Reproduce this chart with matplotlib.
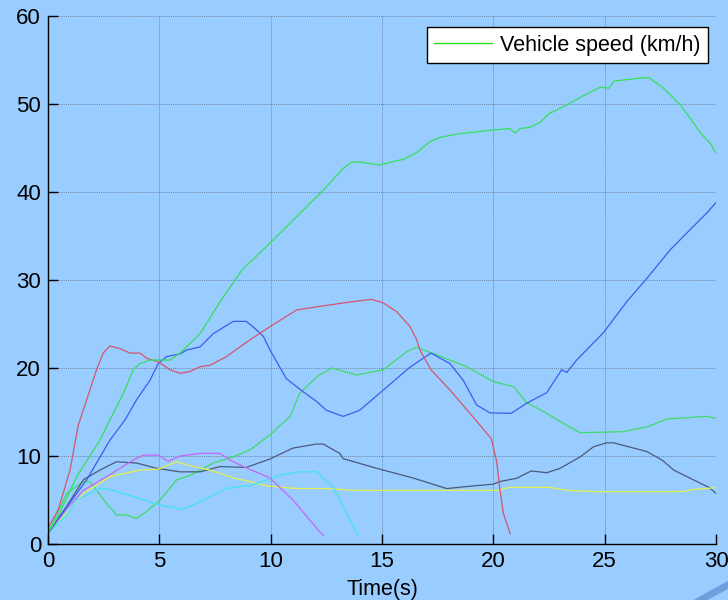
import matplotlib
matplotlib.use("Agg")
import matplotlib.pyplot as plt
from matplotlib.patches import Circle

plt.rcParams['font.family'] = ['Liberation Sans', 'DejaVu Sans']

# ---- data ----
red_t = [0, 0.46, 0.99, 1.36, 1.74, 2.18, 2.48, 2.78, 3.23, 3.68, 4.13, 4.43, 4.95, 5.48, 5.93, 6.38, 6.83, 7.27,
         8.02, 8.62, 9.07, 9.97, 11.17, 12.2, 13.56, 14.53, 15.06, 15.66, 16.26, 16.56, 16.7, 17.2, 18.05, 18.95,
         19.9, 20.0, 20.15, 20.3, 20.45, 20.75]
red_v = [1.8, 3.9, 8.4, 13.5, 16.4, 19.8, 21.7, 22.5, 22.2, 21.7, 21.7, 21.1, 20.7, 19.8, 19.4, 19.6, 20.15, 20.3,
         21.3, 22.4, 23.2, 24.7, 26.6, 27.0, 27.5, 27.8, 27.4, 26.4, 24.7, 23.2, 22.05, 19.8, 17.5, 14.85,
         12.0, 11.0, 9.35, 6.1, 3.5, 1.2]

green1_t = [0, 0.46, 1.29, 2.33, 2.78, 3.38, 3.83, 4.13, 4.58, 5.48, 5.93, 6.83, 7.72, 8.7, 9.97, 11.17, 12.36,
            13.26, 13.64, 14.0, 14.9, 15.66, 15.96, 16.56, 17.15, 17.6, 18.4, 20.0, 20.75, 20.97, 21.2, 21.64,
            22.1, 22.5, 23.3, 23.9, 24.8, 25.2, 25.4, 26.1, 26.8, 27.0, 27.6, 28.4, 28.98, 29.3, 29.75, 30.0]
green1_v = [1.2, 3.2, 7.65, 11.8, 14.1, 17.1, 19.8, 20.5, 20.9, 20.9, 21.7, 23.9, 27.5, 31.1, 34.2, 37.2, 40.2,
            42.7, 43.4, 43.4, 43.07, 43.56, 43.7, 44.5, 45.7, 46.2, 46.6, 47.05, 47.2, 46.7, 47.2, 47.35,
            47.9, 48.9, 49.9, 50.75, 51.9, 51.8, 52.6, 52.8, 53.0, 52.96, 51.9, 49.9, 47.9, 46.7, 45.5, 44.4]

blue_t = [0, 0.84, 1.74, 2.78, 3.46, 3.98, 4.58, 4.95, 5.33, 5.93, 6.23, 6.83, 7.42, 8.32, 8.9, 9.2, 9.67, 9.97,
          10.7, 11.46, 12.06, 12.5, 13.26, 14.0, 15.06, 16.26, 17.2, 18.05, 18.65, 19.25, 19.85, 20.8, 21.5,
          22.4, 23.07, 23.3, 23.74, 24.94, 25.98, 26.9, 27.93, 28.83, 29.58, 30.0]
blue_v = [1.2, 4.2, 7.3, 11.8, 14.1, 16.4, 18.6, 20.5, 21.3, 21.6, 22.05, 22.4, 23.9, 25.3, 25.3, 24.7, 23.6, 22.05,
          18.8, 17.3, 16.2, 15.2, 14.5, 15.2, 17.5, 20.1, 21.7, 20.5, 18.6, 15.8, 14.9, 14.85, 16.0,
          17.2, 19.8, 19.5, 20.9, 24.0, 27.5, 30.2, 33.4, 35.7, 37.6, 38.8]

green2_t = [0, 0.84, 1.59, 1.89, 2.18, 2.63, 3.08, 3.53, 3.98, 4.43, 5.03, 5.78, 6.38, 7.42, 8.32, 9.07, 9.97,
            10.87, 11.3, 12.06, 12.74, 13.86, 15.06, 16.1, 16.55, 17.45, 18.8, 20.0, 20.9, 21.5, 22.4, 23.14,
            23.89, 25.8, 26.9, 27.8, 29.58, 30.0]
green2_v = [1.2, 5.76, 7.1, 7.1, 6.1, 4.6, 3.3, 3.3, 2.9, 3.7, 5.0, 7.3, 7.8, 9.2, 9.9, 10.7, 12.4,
            14.5, 17.1, 19.0, 20.0, 19.2, 19.8, 21.85, 22.35, 21.5, 20.15, 18.45, 17.9, 16.06, 14.85, 13.7,
            12.65, 12.76, 13.3, 14.2, 14.5, 14.3]

gray_t = [0, 0.84, 1.59, 2.33, 3.08, 3.98, 4.88, 5.93, 6.83, 7.72, 8.9, 9.97, 11.0, 12.06, 12.36, 13.1, 13.26,
          14.76, 15.06, 16.4, 17.9, 19.1, 20.0, 20.3, 21.05, 21.7, 22.4, 23.0, 23.9, 24.5, 25.09, 25.4, 26.9,
          27.6, 28.1, 28.98, 29.7, 30.0]
gray_v = [1.2, 4.3, 7.3, 8.4, 9.35, 9.2, 8.6, 8.2, 8.2, 8.8, 8.7, 9.66, 10.9, 11.36, 11.36, 10.3, 9.7,
          8.6, 8.4, 7.5, 6.3, 6.6, 6.8, 7.1, 7.47, 8.3, 8.1, 8.6, 9.9, 11.05, 11.5, 11.5, 10.5,
          9.5, 8.4, 7.3, 6.4, 5.75]

magenta_t = [0, 0.84, 1.59, 2.63, 3.83, 4.28, 4.95, 5.4, 5.93, 6.83, 7.72, 8.17, 8.77, 9.97, 11.0, 12.2, 12.36]
magenta_v = [1.2, 4.0, 6.1, 7.65, 9.55, 10.1, 10.1, 9.4, 10.0, 10.3, 10.3, 9.55, 8.8, 7.5, 5.0, 1.4, 1.0]

yellow_t = [0, 0.84, 1.59, 2.78, 4.13, 4.95, 5.78, 6.23, 7.27, 8.32, 9.07, 9.8, 11.2, 12.5, 13.7, 20.2, 20.75,
            22.5, 23.3, 24.6, 28.5, 29.0, 30.0]
yellow_v = [1.2, 3.5, 5.76, 7.65, 8.4, 8.5, 9.35, 9.0, 8.4, 7.5, 7.1, 6.6, 6.3, 6.3, 6.1, 6.1, 6.44,
            6.44, 6.1, 5.95, 5.95, 6.2, 6.4]

cyan_t = [0, 0.84, 1.29, 2.33, 2.63, 3.83, 5.03, 6.08, 6.97, 8.02, 8.77, 9.07, 10.4, 11.3, 12.06, 12.8, 13.26,
          13.93]
cyan_v = [1.2, 3.3, 5.0, 6.3, 6.3, 5.4, 4.43, 3.94, 5.0, 6.3, 6.6, 6.6, 7.8, 8.2, 8.2, 6.5, 4.2, 1.0]

x_ticks = [0, 5, 10, 15, 20, 25, 30]
y_ticks = [0, 10, 20, 30, 40, 50, 60]
legend_label = "Vehicle speed (km/h)"
x_label = "Time(s)"

# ---- figure ----
bg = '#99CCFF'
fig = plt.figure(figsize=(7.28, 6.0), dpi=100, facecolor=bg)
ax = fig.add_axes([48/728, 1-544/600, 668/728, 528/600])
ax.set_facecolor(bg)

lw = 0.9
ax.plot(green2_t, green2_v, color='#3ddc66', lw=lw)
ax.plot(gray_t, gray_v, color='#4a5a7a', lw=lw)
ax.plot(yellow_t, yellow_v, color='#e4f050', lw=lw)
ax.plot(cyan_t, cyan_v, color='#40e4f6', lw=lw)
ax.plot(magenta_t, magenta_v, color='#c466f4', lw=lw)
ax.plot(blue_t, blue_v, color='#3d5cf0', lw=lw)
ax.plot(red_t, red_v, color='#d6566c', lw=lw)
ax.plot(green1_t, green1_v, color='#33e05a', lw=lw, label=legend_label)

ax.set_xlim(0, 30)
ax.set_ylim(0, 60)
ax.set_xticks(x_ticks)
ax.set_yticks(y_ticks)
ax.tick_params(direction='in', length=7, width=1, labelsize=16, colors='black', pad=5)
ax.grid(True, color='#6f88aa', linestyle=(0, (1, 1)), linewidth=0.7)
ax.set_axisbelow(True)
for s in ['top', 'right']:
    ax.spines[s].set_visible(False)
for s in ['left', 'bottom']:
    ax.spines[s].set_color('black')
    ax.spines[s].set_linewidth(1.0)
ax.set_xlabel(x_label, fontsize=15.5, labelpad=5)

leg = ax.legend(loc='upper right', bbox_to_anchor=(0.988, 0.979), borderaxespad=0,
                fancybox=False, framealpha=1, edgecolor='black', fontsize=15.5,
                handlelength=2.7, handletextpad=0.35, borderpad=0.35)
leg.get_frame().set_linewidth(1.0)
for h in leg.get_lines():
    h.set_color('#22dd22')
    h.set_linewidth(1.0)

# slide decoration arc at bottom-right
arc = Circle((1100, -700), 806, transform=None, fill=False, edgecolor='#6f9edc', linewidth=5)
fig.add_artist(arc)

fig.savefig('out.png', dpi=100, facecolor=bg)
